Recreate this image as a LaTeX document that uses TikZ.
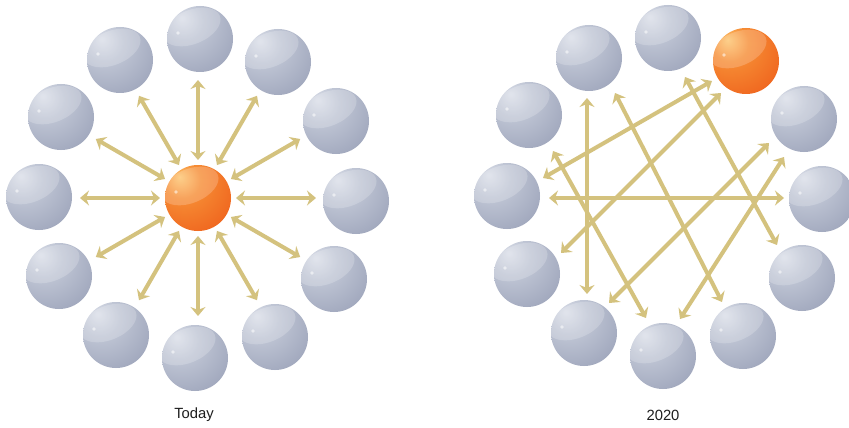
\documentclass[tikz,border=0pt]{standalone}
\usepackage{fontspec}
\setmainfont{Liberation Sans}
\usetikzlibrary{arrows.meta}
\definecolor{arrowc}{RGB}{212,194,126}
\definecolor{txtc}{RGB}{30,30,30}
\definecolor{gbA}{RGB}{218,222,232}
\definecolor{gbB}{RGB}{192,198,213}
\definecolor{gbC}{RGB}{162,169,190}
\definecolor{gbD}{RGB}{152,160,182}
\definecolor{obA}{RGB}{253,196,110}
\definecolor{obB}{RGB}{246,140,52}
\definecolor{obC}{RGB}{240,104,32}
\definecolor{obD}{RGB}{234,96,28}
\pgfdeclareradialshading{grayball}{\pgfpoint{-14bp}{16bp}}{color(0bp)=(gbA); color(14bp)=(gbB); color(38bp)=(gbC); color(64bp)=(gbD); color(100bp)=(gbD)}
\pgfdeclareradialshading{orangeball}{\pgfpoint{-14bp}{16bp}}{color(0bp)=(obA); color(14bp)=(obB); color(38bp)=(obC); color(64bp)=(obD); color(100bp)=(obD)}
\tikzset{
  ballbase/.style={circle, minimum size=66pt, inner sep=0pt, outer sep=0pt,
    path picture={
      \fill[white, fill opacity=0.2] ([shift={(-8pt,12pt)}]path picture bounding box.center) ellipse [x radius=30pt, y radius=17pt, rotate=22];
      \fill[white, fill opacity=0.55] ([shift={(-22pt,6pt)}]path picture bounding box.center) circle (1.8pt);
    }},
  gball/.style={ballbase, shade, shading=grayball},
  oball/.style={ballbase, shade, shading=orangeball},
  link/.style={draw=arrowc, line width=4pt,
    {Stealth[length=9pt,width=15pt,inset=3pt]}-{Stealth[length=9pt,width=15pt,inset=3pt]}},
  captxt/.style={font=\fontsize{14.8}{17}\selectfont, text=txtc, inner sep=0pt}
}
\begin{document}
\begin{tikzpicture}[x=1pt,y=-1pt]
\useasboundingbox (0,0) rectangle (849,428);
\fill[white] (0,0) rectangle (849,428);
% ---------- Today ----------
\node[oball] (c) at (198,198) {};
\node[gball] (l1) at (200,39) {};
\node[gball] (l2) at (278,62) {};
\node[gball] (l3) at (336,121) {};
\node[gball] (l4) at (356,201) {};
\node[gball] (l5) at (334,279) {};
\node[gball] (l6) at (275,337) {};
\node[gball] (l7) at (195,358) {};
\node[gball] (l8) at (116,335) {};
\node[gball] (l9) at (59,276) {};
\node[gball] (l10) at (39,197) {};
\node[gball] (l11) at (61,117) {};
\node[gball] (l12) at (120,60) {};
\foreach \i/\a in {1/90,2/60,3/30,4/0,5/-30,6/-60,7/-90,8/-120,9/-150,10/180,11/150,12/120}{
  \coordinate (e\i) at ([shift={(\a:85pt)}]c.\a);
  \draw[link, shorten <=5pt] (c.\a) -- (e\i);
}
\node[captxt] (t1) at (194,415) {Today};
% ---------- 2020 ----------
\node[gball] (r1) at (589,58) {};
\node[gball] (r2) at (668,38) {};
\node[oball] (r3) at (746,61) {};
\node[gball] (r4) at (804,119) {};
\node[gball] (r5) at (822,199) {};
\node[gball] (r6) at (802,278) {};
\node[gball] (r7) at (743,336) {};
\node[gball] (r8) at (663,356) {};
\node[gball] (r9) at (584,333) {};
\node[gball] (r10) at (527,274) {};
\node[gball] (r11) at (507,196) {};
\node[gball] (r12) at (529,115) {};
\coordinate (a1s) at (587,98);  \coordinate (a1e) at (587,294);
\coordinate (a2s) at (549,198); \coordinate (a2e) at (784,198);
\coordinate (a3s) at (543,178); \coordinate (a3e) at (712,81);
\coordinate (a4s) at (721,93);  \coordinate (a4e) at (561,253);
\coordinate (a5s) at (553,151); \coordinate (a5e) at (646,318);
\coordinate (a6s) at (615,93);  \coordinate (a6e) at (722,302);
\coordinate (a7s) at (685,77);  \coordinate (a7e) at (777,245);
\coordinate (a8s) at (769,143); \coordinate (a8e) at (609,303);
\coordinate (a9s) at (784,157); \coordinate (a9e) at (680,319);
\foreach \i in {1,...,9}
  \draw[link] (a\i s) -- (a\i e);
\node[captxt] (t2) at (663,415) {2020};
\end{tikzpicture}
\end{document}
